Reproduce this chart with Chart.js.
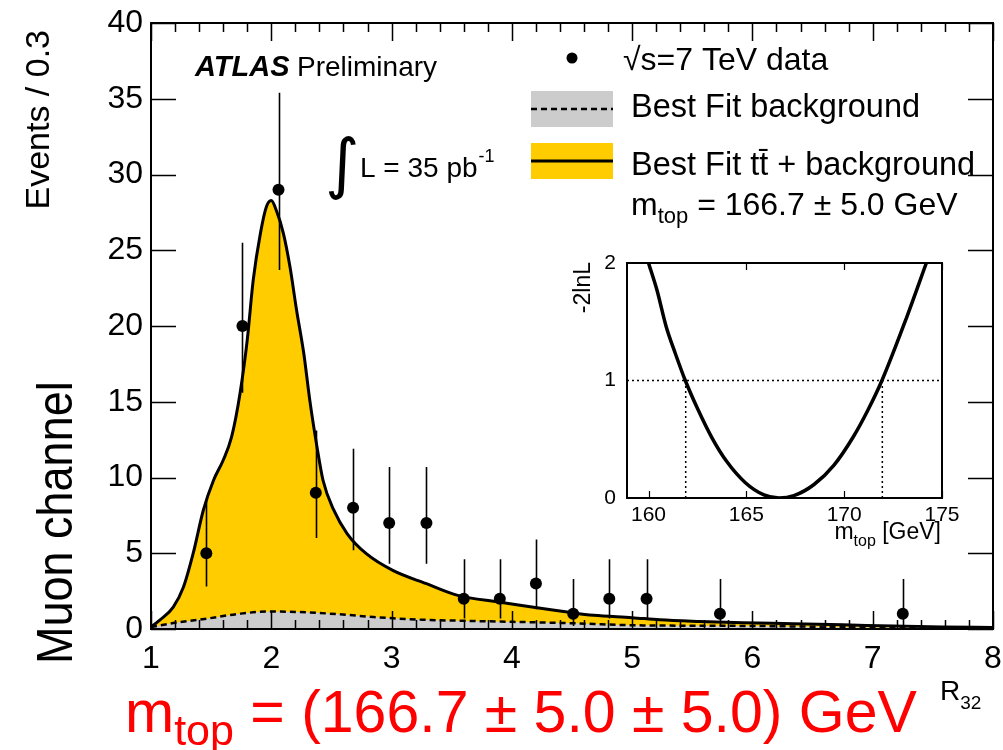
<!DOCTYPE html>
<html>
<head>
<meta charset="utf-8">
<script src="https://cdn.jsdelivr.net/npm/chart.js@4.4.1/dist/chart.umd.min.js"></script>
<style>
  html, body { margin: 0; padding: 0; background: #fff; }
  #wrap { position: relative; width: 1003px; height: 750px; overflow: hidden; }
  #main { position: absolute; left: 0; top: 0; }
  #inset { position: absolute; left: 540px; top: 240px; }
</style>
</head>
<body>
<div id="wrap">
  <canvas id="main" width="1003" height="750"></canvas>
  <canvas id="inset" width="420" height="320"></canvas>
</div>
<script>
const FONT = '"Liberation Sans", Arial, Helvetica, sans-serif';

// data points (R32 bin centre, events) with poisson-ish error bars
const dataX   = [1.46, 1.76, 2.06, 2.37, 2.68, 2.98, 3.29, 3.60, 3.90, 4.20, 4.51, 4.81, 5.12, 5.73, 7.25];
const dataY   = [5, 20, 29, 9, 8, 7, 7, 2, 2, 3, 1, 2, 2, 1, 1];
const errLow  = [2.8, 15.6, 23.7, 6.0, 5.2, 4.3, 4.3, 0.7, 0.7, 1.3, 0.2, 0.7, 0.7, 0.2, 0.2];
const errHigh = [8.4, 25.5, 35.4, 13.1, 11.9, 10.7, 10.7, 4.6, 4.6, 5.9, 3.3, 4.6, 4.6, 3.3, 3.3];

// best fit ttbar + background (solid)
const fitX = [1.0, 1.075, 1.185, 1.27, 1.35, 1.435, 1.52, 1.60, 1.67, 1.74, 1.80, 1.85, 1.91, 1.96, 2.0,
              2.04, 2.10, 2.155, 2.21, 2.27, 2.32, 2.38, 2.43, 2.52, 2.63, 2.79, 3.01, 3.29, 3.55, 3.89,
              4.46, 4.68, 5.0, 5.23, 5.56, 5.92, 6.34, 6.75, 7.17, 7.58, 8.0];
const fitY = [0.13, 0.6, 1.45, 2.77, 4.97, 7.84, 9.82, 11.14, 12.68, 15.55, 19.07, 23.04, 26.13, 27.88, 28.28,
              27.67, 26.13, 23.92, 21.06, 18.2, 15.11, 12.02, 9.82, 7.84, 6.3, 4.97, 3.87, 2.99, 2.22, 1.78,
              1.12, 0.9, 0.75, 0.61, 0.5, 0.41, 0.35, 0.28, 0.19, 0.13, 0.1];

// best fit background (dashed, grey)
const bkgX = [1.0, 1.185, 1.46, 1.74, 1.99, 2.29, 2.57, 2.85, 3.26, 3.55, 4.46, 5.0, 6.0, 7.0, 8.0];
const bkgY = [0.13, 0.39, 0.68, 1.01, 1.16, 1.1, 0.97, 0.79, 0.61, 0.55, 0.39, 0.25, 0.2, 0.1, 0.05];

const xTicks = [1, 2, 3, 4, 5, 6, 7, 8];
const yTicks = [0, 5, 10, 15, 20, 25, 30, 35, 40];

// inset: -2lnL vs m_top
const insetMass = [160.0, 160.43, 160.9, 161.37, 161.88, 162.48, 163.25, 164.0, 164.95, 165.9, 166.67,
                   167.43, 168.46, 169.48, 170.5, 171.19, 171.93, 173.2, 174.2];
const insetNll  = [2.0, 1.77, 1.46, 1.23, 1.0, 0.77, 0.51, 0.31, 0.13, 0.026, 0,
                   0.02, 0.115, 0.28, 0.53, 0.74, 1.0, 1.54, 2.0];
const insetRange = [158.9, 175];
const insetLevel = 1;
const insetCross = [161.9, 171.95];
const insetXTicks = [160, 165, 170, 175];
const insetYTicks = [0, 1, 2];

const pts = (xs, ys) => xs.map((v, i) => ({ x: v, y: ys[i] }));

function drawSub(ctx, x, y, parts){
  // parts: [text, size, dy]
  parts.forEach(p => {
    ctx.font = p[1] + 'px ' + FONT;
    ctx.fillText(p[0], x, y + (p[2] || 0));
    x += ctx.measureText(p[0]).width;
  });
  return x;
}

const errorBars = {
  id: 'errorBars',
  beforeDatasetDraw(chart, args){
    if (args.index !== 0) return;
    const { ctx, scales: { x, y } } = chart;
    ctx.save();
    ctx.strokeStyle = '#000';
    ctx.lineWidth = 1.6;
    ctx.beginPath();
    dataX.forEach((v, i) => {
      const px = Math.round(x.getPixelForValue(v)) + 0.5;
      ctx.moveTo(px, y.getPixelForValue(errLow[i]));
      ctx.lineTo(px, y.getPixelForValue(errHigh[i]));
    });
    ctx.stroke();
    ctx.restore();
  }
};

const mainFrame = {
  id: 'mainFrame',
  afterDatasetsDraw(chart){
    const { ctx, chartArea: a, scales: { x, y } } = chart;
    ctx.save();
    ctx.strokeStyle = '#000';
    ctx.lineWidth = 1.5;
    ctx.beginPath();
    for (let k = 0; k <= 35; k++) {
      const v = 1 + k * 0.2;
      const px = Math.round(x.getPixelForValue(v)) + 0.5;
      const len = (k % 5 === 0) ? 18 : 9;
      ctx.moveTo(px, a.bottom); ctx.lineTo(px, a.bottom - len);
      ctx.moveTo(px, a.top); ctx.lineTo(px, a.top + len);
    }
    yTicks.forEach(v => {
      const py = Math.round(y.getPixelForValue(v)) + 0.5;
      ctx.moveTo(a.left, py); ctx.lineTo(a.left + 25, py);
      ctx.moveTo(a.right, py); ctx.lineTo(a.right - 25, py);
    });
    ctx.stroke();
    ctx.lineWidth = 2;
    ctx.strokeRect(a.left, a.top, a.right - a.left, a.bottom - a.top);
    ctx.restore();
  },
  afterDraw(chart){
    const ctx = chart.ctx;
    ctx.save();
    ctx.fillStyle = '#000';
    ctx.textBaseline = 'alphabetic';
    ctx.textAlign = 'left';

    // ATLAS Preliminary
    ctx.font = 'italic bold 29px ' + FONT;
    ctx.fillText('ATLAS', 195, 76);
    ctx.font = '28px ' + FONT;
    ctx.fillText('Preliminary', 297, 76);

    // integrated luminosity
    ctx.font = '66px "DejaVu Sans"';
    ctx.fillText('\u222B', 325, 186);
    let xe = drawSub(ctx, 360, 177, [['L = 35 pb', 28]]);
    drawSub(ctx, xe + 1, 162, [['-1', 18]]);

    // legend
    ctx.beginPath();
    ctx.arc(572, 58, 5.5, 0, Math.PI * 2);
    ctx.fill();
    ctx.font = '32px ' + FONT;
    ctx.fillText('\u221As=7 TeV data', 623, 70);

    ctx.fillStyle = '#cccccc';
    ctx.fillRect(531, 91, 82, 36);
    ctx.fillStyle = '#ffcc00';
    ctx.fillRect(531, 143, 82, 36);
    ctx.strokeStyle = '#000';
    ctx.lineWidth = 2.5;
    ctx.setLineDash([6, 4]);
    ctx.beginPath(); ctx.moveTo(531, 109); ctx.lineTo(613, 109); ctx.stroke();
    ctx.setLineDash([]);
    ctx.lineWidth = 3;
    ctx.beginPath(); ctx.moveTo(531, 161); ctx.lineTo(613, 161); ctx.stroke();

    ctx.fillStyle = '#000';
    ctx.font = '32.5px ' + FONT;
    ctx.fillText('Best Fit background', 631, 117);
    ctx.fillText('Best Fit tt\u0304 + background', 631, 175);
    drawSub(ctx, 631, 215, [['m', 32], ['top', 22, 8], [' = 166.7 \u00B1 5.0 GeV', 32]]);

    // axis titles
    ctx.save();
    ctx.translate(49, 30);
    ctx.rotate(-Math.PI / 2);
    ctx.textAlign = 'right';
    ctx.font = '34px ' + FONT;
    ctx.fillText('Events / 0.3', 0, 0);
    ctx.restore();

    ctx.save();
    ctx.translate(72, 664);
    ctx.rotate(-Math.PI / 2);
    ctx.scale(1, 1.12);
    ctx.textAlign = 'left';
    ctx.font = '45px ' + FONT;
    ctx.fillText('Muon channel', 0, 0);
    ctx.restore();

    drawSub(ctx, 940, 700, [['R', 28], ['32', 19, 9]]);

    ctx.fillStyle = '#ff0000';
    drawSub(ctx, 125, 732, [['m', 59], ['top', 43, 13], [' = (166.7 \u00B1 5.0 \u00B1 5.0) GeV', 59]]);
    ctx.restore();
  }
};

Chart.defaults.font.family = FONT;
Chart.defaults.color = '#000';

new Chart(document.getElementById('main'), {
  type: 'line',
  data: {
    datasets: [
      {
        data: pts(dataX, dataY),
        showLine: false,
        pointRadius: 6,
        pointBackgroundColor: '#000',
        pointBorderWidth: 0
      },
      {
        data: pts(bkgX, bkgY),
        borderColor: '#000',
        borderWidth: 2.5,
        borderDash: [6, 4],
        backgroundColor: '#cccccc',
        fill: 'origin',
        pointRadius: 0,
        cubicInterpolationMode: 'monotone'
      },
      {
        data: pts(fitX, fitY),
        borderColor: '#000',
        borderWidth: 3,
        backgroundColor: '#ffcc00',
        fill: 'origin',
        pointRadius: 0,
        cubicInterpolationMode: 'monotone'
      }
    ]
  },
  options: {
    responsive: false,
    animation: false,
    layout: { padding: { top: 23, right: 10, left: 0, bottom: 0 } },
    plugins: { legend: { display: false }, tooltip: { enabled: false } },
    scales: {
      x: {
        type: 'linear', min: 1, max: 8,
        grid: { display: false }, border: { display: false },
        afterBuildTicks: s => { s.ticks = xTicks.map(v => ({ value: v })); },
        ticks: { font: { size: 32 }, padding: 3, maxRotation: 0, autoSkip: false },
        afterFit: s => { s.height = 121; s.paddingLeft = 0; s.paddingRight = 0; }
      },
      y: {
        type: 'linear', min: 0, max: 40,
        grid: { display: false }, border: { display: false },
        afterBuildTicks: s => { s.ticks = yTicks.map(v => ({ value: v })); },
        ticks: { font: { size: 32 }, padding: 0, autoSkip: false },
        afterFit: s => { s.width = 151; s.paddingTop = 0; s.paddingBottom = 0; }
      }
    }
  },
  plugins: [errorBars, mainFrame]
});

const insetFrame = {
  id: 'insetFrame',
  afterDatasetsDraw(chart){
    const { ctx, chartArea: a, scales: { x } } = chart;
    ctx.save();
    ctx.strokeStyle = '#000';
    ctx.lineWidth = 1.2;
    ctx.beginPath();
    insetXTicks.forEach(v => {
      const px = Math.round(x.getPixelForValue(v)) + 0.5;
      ctx.moveTo(px, a.bottom); ctx.lineTo(px, a.bottom - 7);
      ctx.moveTo(px, a.top); ctx.lineTo(px, a.top + 7);
    });
    ctx.stroke();
    ctx.lineWidth = 2;
    ctx.strokeRect(a.left, a.top, a.right - a.left, a.bottom - a.top);
    ctx.restore();
  },
  afterDraw(chart){
    const ctx = chart.ctx;
    ctx.save();
    ctx.fillStyle = '#000';
    ctx.textBaseline = 'alphabetic';
    ctx.save();
    ctx.translate(50, 22);
    ctx.rotate(-Math.PI / 2);
    ctx.textAlign = 'right';
    ctx.font = '23px ' + FONT;
    ctx.fillText('-2lnL', 0, 0);
    ctx.restore();

    // m_top [GeV], right aligned at the frame edge
    ctx.font = '23px ' + FONT;
    const w1 = ctx.measureText('m').width, w3 = ctx.measureText(' [GeV]').width;
    ctx.font = '16px ' + FONT;
    const w2 = ctx.measureText('top').width;
    drawSub(ctx, 401 - w1 - w2 - w3, 299, [['m', 23], ['top', 16, 7], [' [GeV]', 23]]);
    ctx.restore();
  }
};

new Chart(document.getElementById('inset'), {
  type: 'line',
  data: {
    datasets: [
      {
        data: pts(insetMass, insetNll),
        borderColor: '#000',
        borderWidth: 3.5,
        pointRadius: 0,
        cubicInterpolationMode: 'monotone'
      },
      {
        data: pts(insetRange, [insetLevel, insetLevel]),
        borderColor: '#000', borderWidth: 1.5, borderDash: [2, 3], pointRadius: 0
      },
      {
        data: pts([insetCross[0], insetCross[0]], [0, insetLevel]),
        borderColor: '#000', borderWidth: 1.5, borderDash: [2, 3], pointRadius: 0
      },
      {
        data: pts([insetCross[1], insetCross[1]], [0, insetLevel]),
        borderColor: '#000', borderWidth: 1.5, borderDash: [2, 3], pointRadius: 0
      }
    ]
  },
  options: {
    responsive: false,
    animation: false,
    layout: { padding: { top: 23, right: 18, left: 0, bottom: 0 } },
    plugins: { legend: { display: false }, tooltip: { enabled: false } },
    scales: {
      x: {
        type: 'linear', min: insetRange[0], max: insetRange[1],
        grid: { display: false }, border: { display: false },
        afterBuildTicks: s => { s.ticks = insetXTicks.map(v => ({ value: v })); },
        ticks: { font: { size: 21 }, padding: -3, maxRotation: 0, autoSkip: false },
        afterFit: s => { s.height = 62; s.paddingLeft = 0; s.paddingRight = 0; }
      },
      y: {
        type: 'linear', min: 0, max: 2,
        grid: { display: false }, border: { display: false },
        afterBuildTicks: s => { s.ticks = insetYTicks.map(v => ({ value: v })); },
        ticks: { font: { size: 21 }, padding: 3, autoSkip: false },
        afterFit: s => { s.width = 87; s.paddingTop = 0; s.paddingBottom = 0; }
      }
    }
  },
  plugins: [insetFrame]
});
</script>
</body>
</html>
